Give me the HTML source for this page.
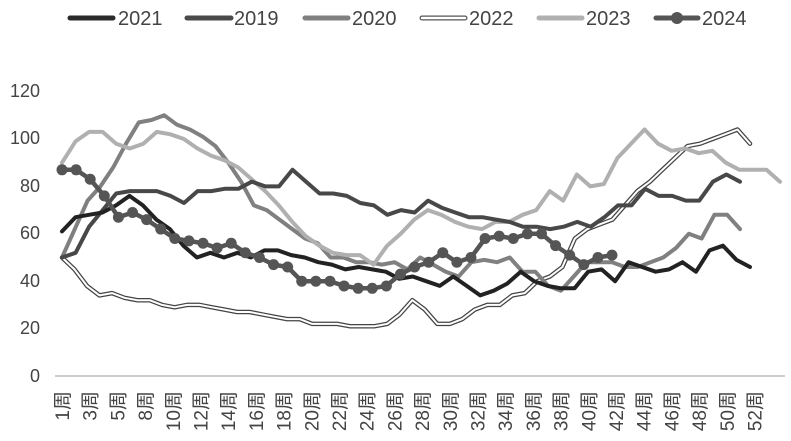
<!DOCTYPE html>
<html><head><meta charset="utf-8"><style>
body{margin:0;background:#fff;}
svg{display:block;font-family:"Liberation Sans","Noto Sans CJK SC",sans-serif;}
</style></head><body>
<svg id="c" width="791" height="441" viewBox="0 0 791 441" xmlns="http://www.w3.org/2000/svg">
<rect width="791" height="441" fill="#fff"/>
<g font-size="20" fill="#444">
<line x1="70" y1="18" x2="113" y2="18" stroke="#2a2a2a" stroke-width="5" stroke-linecap="round"/><text x="118" y="25">2021</text>
<line x1="187" y1="18" x2="231" y2="18" stroke="#4a4a4a" stroke-width="5" stroke-linecap="round"/><text x="234" y="25">2019</text>
<line x1="305" y1="18" x2="348" y2="18" stroke="#808080" stroke-width="5" stroke-linecap="round"/><text x="352" y="25">2020</text>
<line x1="422" y1="18" x2="465" y2="18" stroke="#555" stroke-width="5" stroke-linecap="round"/><line x1="422" y1="18" x2="465" y2="18" stroke="#fff" stroke-width="2.5" stroke-linecap="round"/><text x="469" y="25">2022</text>
<line x1="539" y1="18" x2="582" y2="18" stroke="#b0b0b0" stroke-width="5" stroke-linecap="round"/><text x="586" y="25">2023</text>
<line x1="656" y1="18" x2="698" y2="18" stroke="#555" stroke-width="5" stroke-linecap="round"/><circle cx="677" cy="18" r="6" fill="#555"/><text x="702" y="25">2024</text>
</g>
<g font-size="18" fill="#444" text-anchor="end">
<text x="40" y="97">120</text><text x="40" y="144">100</text><text x="40" y="192">80</text><text x="40" y="239">60</text><text x="40" y="287">40</text><text x="40" y="334">20</text><text x="40" y="382">0</text>
</g>
<line x1="55" y1="376" x2="785" y2="376" stroke="#bbb" stroke-width="1.5"/>
<g id="xl" font-size="19" fill="#444" text-anchor="end"></g>
<g id="ser" fill="none" stroke-linejoin="round" stroke-linecap="round"></g>
</svg>
<script>
var Y=function(v){return 376-v*2.37;};
var xl=document.getElementById('xl');
var labs=[1,3,5,8,10,12,14,16,18,20,22,24,26,28,30,32,34,36,38,40,42,44,46,48,50,52];
var s='';
labs.forEach(function(l,i){var x=69+i*27.7;s+='<text transform="translate('+x+',391) rotate(-90)">'+l+'周</text>';});
xl.innerHTML=s;
function pts(arr,xe){var dx=(xe-62)/(arr.length-1);return arr.map(function(v,i){return (62+i*dx).toFixed(1)+','+Y(v).toFixed(1);}).join(' ');}
var s2019=[50,52,63,70,77,78,78,78,76,73,78,78,79,79,82,80,80,87,82,77,77,76,73,72,68,70,69,74,71,69,67,67,66,65,63,63,62,63,65,63,67,72,72,79,76,76,74,74,82,85,82];
var s2021=[61,67,68,69,72,76,72,66,62,55,50,52,50,52,50,53,53,51,50,48,47,45,46,45,44,41,42,40,38,42,38,34,36,39,44,40,38,37,37,44,45,40,48,46,44,45,48,44,53,55,49,46];
var s2020=[50,62,74,80,88,98,107,108,110,106,104,101,97,90,82,72,70,66,62,58,56,50,50,48,48,47,48,45,50,47,44,42,48,49,48,50,44,44,38,36,42,48,48,48,46,46,48,50,54,60,58,68,68,62];
var s2022=[50,45,38,34,35,33,32,32,30,29,30,30,29,28,27,27,26,25,24,24,22,22,22,21,21,21,22,26,32,28,22,22,24,28,30,30,34,35,40,42,46,58,62,64,66,72,78,82,87,92,97,98,100,102,104,98];
var s2023=[90,99,103,103,98,96,98,103,102,100,96,93,91,88,83,78,72,65,59,55,52,51,51,47,55,60,66,70,68,65,63,62,65,65,68,70,78,74,85,80,81,92,98,104,98,95,96,94,95,90,87,87,87,82];
var s2024=[87,87,83,76,67,69,66,62,58,57,56,54,56,52,50,47,46,40,40,40,38,37,37,38,43,46,48,52,48,50,58,59,58,60,60,55,51,47,50,51];
var g=document.getElementById('ser');var h='';
h+='<polyline points="'+pts(s2022,750)+'" stroke="#444" stroke-width="4.5"/>';
h+='<polyline points="'+pts(s2022,750)+'" stroke="#fff" stroke-width="2"/>';
h+='<polyline points="'+pts(s2020,740)+'" stroke="#808080" stroke-width="4"/>';
h+='<polyline points="'+pts(s2023,780)+'" stroke="#b0b0b0" stroke-width="4"/>';
h+='<polyline points="'+pts(s2019,740)+'" stroke="#484848" stroke-width="4"/>';
h+='<polyline points="'+pts(s2021,750)+'" stroke="#222" stroke-width="4"/>';
h+='<polyline points="'+pts(s2024,612)+'" stroke="#555" stroke-width="4.5"/>';
var dx=(612-62)/(s2024.length-1);
s2024.forEach(function(v,i){h+='<circle cx="'+(62+i*dx)+'" cy="'+Y(v)+'" r="5.5" fill="#555" stroke="none"/>';});
g.innerHTML=h;
</script>
</body></html>
